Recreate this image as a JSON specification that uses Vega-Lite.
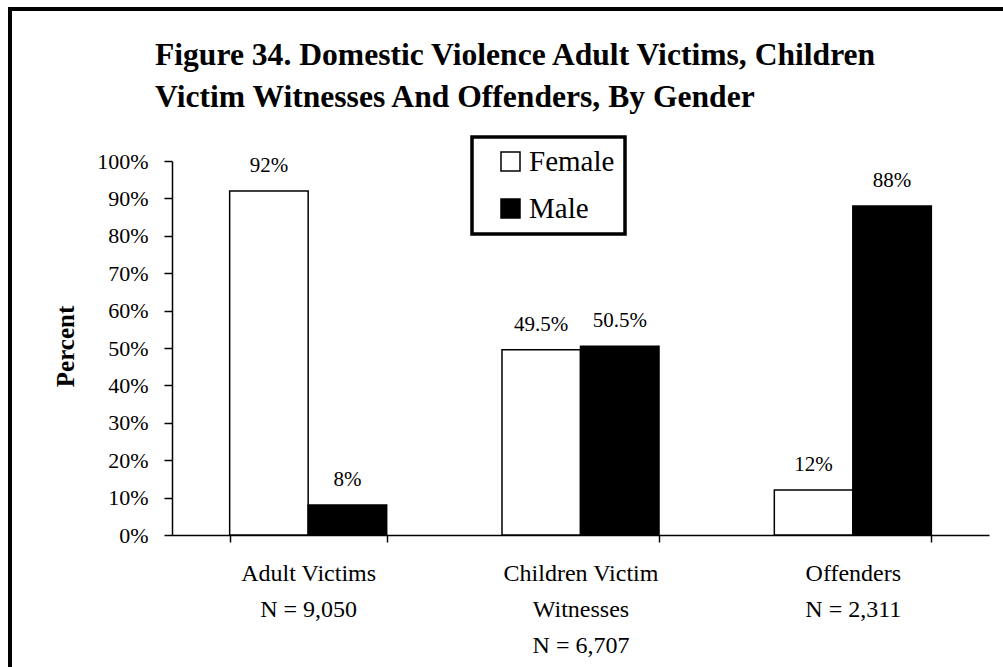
{
  "$schema": "https://vega.github.io/schema/vega-lite/v6.json",
  "width": 1000,
  "height": 670,
  "autosize": {"type": "none"},
  "padding": {"left": 10, "top": 9, "right": -7, "bottom": -12},
  "background": "white",
  "title": {
    "text": ["Figure 34.  Domestic Violence Adult Victims, Children", "Victim Witnesses And Offenders, By Gender"],
    "font": "Liberation Serif",
    "fontSize": 31.6,
    "fontWeight": "bold",
    "lineHeight": 42,
    "anchor": "start",
    "frame": "group",
    "baseline": "top",
    "offset": 0,
    "dx": 145,
    "dy": 105,
    "color": "black"
  },
  "data": {
    "values": [
      {"category": "Adult Victims|N = 9,050", "gender": "Female", "percent": 92, "label": "92%"},
      {"category": "Adult Victims|N = 9,050", "gender": "Male", "percent": 8, "label": "8%"},
      {"category": "Children Victim|Witnesses|N = 6,707", "gender": "Female", "percent": 49.5, "label": "49.5%"},
      {"category": "Children Victim|Witnesses|N = 6,707", "gender": "Male", "percent": 50.5, "label": "50.5%"},
      {"category": "Offenders|N = 2,311", "gender": "Female", "percent": 12, "label": "12%"},
      {"category": "Offenders|N = 2,311", "gender": "Male", "percent": 88, "label": "88%"}
    ]
  },
  "encoding": {
    "x": {
      "field": "category",
      "type": "nominal",
      "sort": null,
      "scale": {"range": [162, 979], "paddingInner": 0.4234, "paddingOuter": 0.2117},
      "axis": {
        "title": null,
        "offset": -144,
        "labelExpr": "datum.value ? split(datum.value, '|') : ''",
        "labelAngle": 0,
        "labelFont": "Liberation Serif",
        "labelFontSize": 24,
        "labelLineHeight": 36,
        "labelPadding": 19,
        "labelColor": "black",
        "tickBand": "extent",
        "tickSize": 7,
        "tickColor": "black",
        "tickWidth": 1.5,
        "domainColor": "black",
        "domainWidth": 1.5,
        "grid": false
      }
    },
    "xOffset": {"field": "gender", "type": "nominal", "sort": ["Female", "Male"], "scale": {"paddingInner": 0, "paddingOuter": 0}},
    "y": {
      "field": "percent",
      "type": "quantitative",
      "scale": {"domain": [0, 100], "range": [526, 152], "nice": false},
      "axis": {
        "title": "Percent",
        "titleFont": "Liberation Serif",
        "titleFontSize": 25,
        "titleFontWeight": "bold",
        "titleColor": "black",
        "titleAngle": -90,
        "titleX": -99,
        "titleY": 337,
        "titleBaseline": "alphabetic",
        "titleAlign": "center",
        "offset": -162,
        "values": [0, 10, 20, 30, 40, 50, 60, 70, 80, 90, 100],
        "labelExpr": "datum.value + '%'",
        "labelFont": "Liberation Serif",
        "labelFontSize": 22,
        "labelPadding": 16,
        "labelColor": "black",
        "tickSize": 8,
        "tickColor": "black",
        "tickWidth": 1.5,
        "domainColor": "black",
        "domainWidth": 1.5,
        "grid": false
      }
    }
  },
  "layer": [
    {
      "mark": {"type": "bar", "stroke": "black", "strokeWidth": 1.5},
      "encoding": {
        "color": {
          "field": "gender",
          "type": "nominal",
          "sort": ["Female", "Male"],
          "scale": {"domain": ["Female", "Male"], "range": ["white", "black"]},
          "legend": {
            "title": null,
            "orient": "none",
            "legendX": 462,
            "legendY": 128,
            "padding": 10,
            "fillColor": "white",
            "symbolType": "square",
            "symbolSize": 361,
            "symbolOffset": 14,
            "symbolStrokeColor": "black",
            "symbolStrokeWidth": 1.5,
            "symbolOpacity": 1,
            "labelFont": "Liberation Serif",
            "labelFontSize": 29,
            "labelColor": "black",
            "labelOffset": 4,
            "rowPadding": 17
          }
        }
      }
    },
    {
      "mark": {"type": "text", "font": "Liberation Serif", "fontSize": 21, "color": "black", "baseline": "alphabetic", "dy": -19},
      "encoding": {"text": {"field": "label", "type": "nominal"}}
    }
  ],
  "config": {
    "view": {"stroke": "black", "strokeWidth": 4, "fill": "white"},
    "legend": {"strokeColor": "black", "strokeWidth": 3.5, "cornerRadius": 0}
  }
}
